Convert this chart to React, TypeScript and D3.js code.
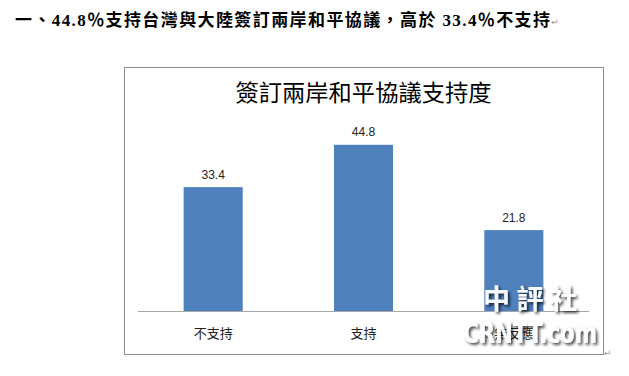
import React from "react";
import * as d3 from "d3";

// Survey result: support for signing a cross-strait peace agreement (%)
const categories = ["不支持", "支持", "無反應"];
const values = [33.4, 44.8, 21.8];
const yDomain = [0, 50];

const headline = "一、44.8％支持台灣與大陸簽訂兩岸和平協議，高於 33.4％不支持";
const chartTitle = "簽訂兩岸和平協議支持度";

const W = 629;
const H = 376;

const frame = { left: 124, top: 67, right: 603, bottom: 354 };
const plot = { left: 138, right: 589, top: 125.5, bottom: 311 };

export default function App() {
  const x = d3
    .scaleBand<string>()
    .domain(categories)
    .range([plot.left, plot.right])
    .paddingInner(0.607)
    .paddingOuter(0.3035);

  const y = d3.scaleLinear().domain(yDomain).range([plot.bottom, plot.top]);

  const bars = categories.map((c, i) => ({ c, v: values[i] }));

  return (
    <svg
      width={W}
      height={H}
      style={{ position: "absolute", left: 0, top: 0, background: "#fff" }}
    >
      <defs>
        <filter id="wmShadow" x="-20%" y="-30%" width="140%" height="160%">
          <feGaussianBlur in="SourceAlpha" stdDeviation="1.6" result="b" />
          <feOffset in="b" dx="1.5" dy="2" result="o" />
          <feComponentTransfer in="o" result="s">
            <feFuncA type="linear" slope="0.75" />
          </feComponentTransfer>
          <feMerge>
            <feMergeNode in="s" />
            <feMergeNode in="SourceGraphic" />
          </feMerge>
        </filter>
      </defs>

      {/* headline paragraph */}
      <text
        x={15}
        y={26}
        fontFamily="'Liberation Serif', 'Noto Sans CJK TC', serif"
        fontWeight="bold"
        fontSize={17}
        fill="#000"
        textLength={535}
        lengthAdjust="spacing"
      >
        {headline}
      </text>
      <text x={551} y={25} fontSize={9} fill="#999" fontFamily="'DejaVu Sans', sans-serif">
        ↵
      </text>

      {/* chart frame */}
      <rect
        x={frame.left + 0.5}
        y={frame.top + 0.5}
        width={frame.right - frame.left}
        height={frame.bottom - frame.top}
        fill="#fff"
        stroke="#8c8c8c"
        strokeWidth={1}
      />
      <text x={604} y={356} fontSize={9} fill="#999" fontFamily="'DejaVu Sans', sans-serif">
        ↵
      </text>

      {/* title */}
      <text
        x={(frame.left + frame.right) / 2}
        y={101}
        textAnchor="middle"
        fontFamily="'Noto Sans CJK TC', serif"
        fontSize={23}
        fill="#000"
        textLength={256}
        lengthAdjust="spacingAndGlyphs"
      >
        {chartTitle}
      </text>

      {/* bars */}
      {bars.map((d) => (
        <rect
          key={d.c}
          x={x(d.c)}
          y={y(d.v)}
          width={x.bandwidth()}
          height={y(0) - y(d.v)}
          fill="#4f81bd"
        />
      ))}

      {/* value labels */}
      {bars.map((d) => (
        <text
          key={"v" + d.c}
          x={(x(d.c) as number) + x.bandwidth() / 2}
          y={y(d.v) - 8.5}
          textAnchor="middle"
          fontFamily="'Liberation Sans', Arial, sans-serif"
          fontSize={12}
          fill="#222"
        >
          {d.v.toFixed(1)}
        </text>
      ))}

      {/* category axis */}
      <line
        x1={plot.left}
        x2={plot.right}
        y1={plot.bottom + 0.5}
        y2={plot.bottom + 0.5}
        stroke="#a6a6a6"
        strokeWidth={1}
      />
      {categories.map((c) => (
        <text
          key={"c" + c}
          x={(x(c) as number) + x.bandwidth() / 2}
          y={338}
          textAnchor="middle"
          fontFamily="'Noto Sans CJK TC', sans-serif"
          fontSize={13}
          fill="#222"
        >
          {c}
        </text>
      ))}

      {/* site watermark */}
      <g filter="url(#wmShadow)" fill="#fff" opacity={0.97}>
        <text
          x={483}
          y={309}
          fontFamily="'Noto Sans CJK TC', sans-serif"
          fontWeight="bold"
          fontSize={27}
          textLength={94}
          lengthAdjust="spacing"
        >
          中評社
        </text>
        <text
          x={463}
          y={343}
          fontFamily="'DejaVu Sans', sans-serif"
          fontWeight="bold"
          fontSize={28}
          textLength={134}
          lengthAdjust="spacingAndGlyphs"
        >
          CRNTT.com
        </text>
      </g>
    </svg>
  );
}
